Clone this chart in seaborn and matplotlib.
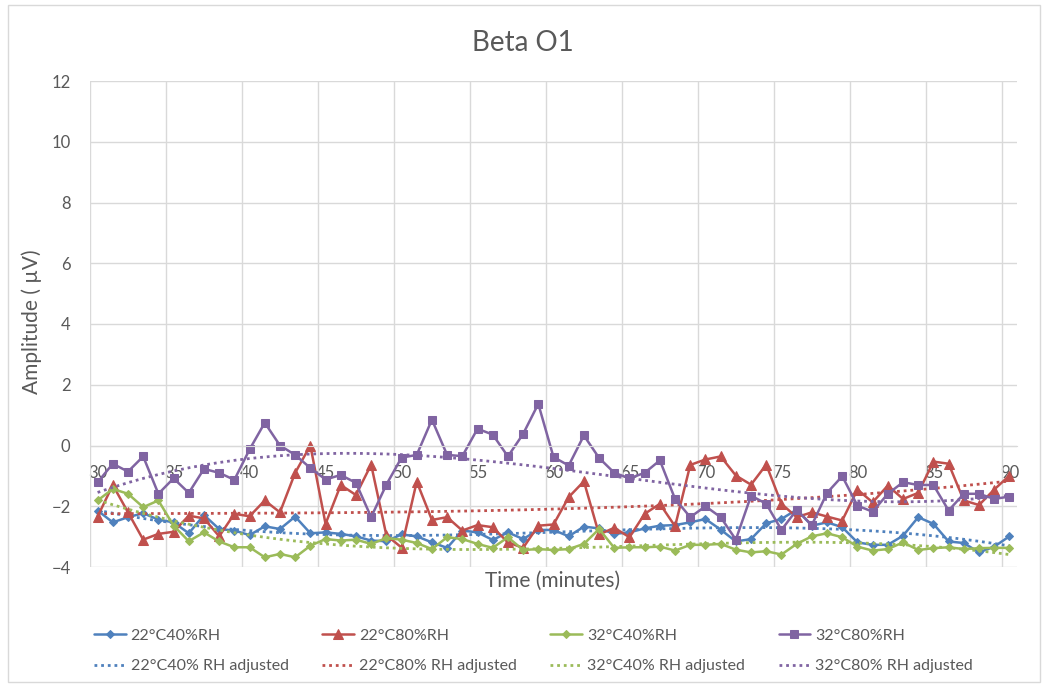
import numpy as np
import pandas as pd
import matplotlib
matplotlib.use("Agg")
import matplotlib.pyplot as plt
import seaborn as sns
from matplotlib.patches import Rectangle

# Zeit in Minuten
minutes = list(range(30, 91))

c22_40 = [-2.14, -2.53, -2.36, -2.23, -2.44, -2.53, -2.89, -2.29, -2.75, -2.80,
          -2.95, -2.66, -2.75, -2.34, -2.89, -2.86, -2.91, -2.99, -3.13, -3.15,
          -2.93, -2.99, -3.19, -3.37, -2.80, -2.86, -3.11, -2.86, -3.08, -2.78,
          -2.78, -2.99, -2.67, -2.73, -2.91, -2.86, -2.73, -2.64, -2.62, -2.53,
          -2.42, -2.77, -3.16, -3.08, -2.56, -2.42, -2.11, -2.64, -2.53, -2.69,
          -3.19, -3.27, -3.27, -2.97, -2.36, -2.58, -3.16, -3.21, -3.52, -3.33,
          -2.99]
c22_80 = [-2.34, -1.30, -2.20, -3.10, -2.91, -2.84, -2.31, -2.40, -2.99, -2.25,
          -2.33, -1.81, -2.20, -0.90, 0.00, -2.58, -1.30, -1.63, -0.63, -2.95,
          -3.36, -1.19, -2.45, -2.36, -2.80, -2.62, -2.69, -3.19, -3.37, -2.64,
          -2.60, -1.70, -1.18, -2.93, -2.71, -3.02, -2.25, -1.92, -2.66, -0.64,
          -0.46, -0.36, -0.99, -1.29, -0.63, -1.92, -2.36, -2.20, -2.34, -2.47,
          -1.45, -1.87, -1.32, -1.76, -1.56, -0.53, -0.60, -1.81, -1.96, -1.45,
          -0.99]
c32_40 = [-1.81, -1.43, -1.59, -2.03, -1.81, -2.64, -3.15, -2.86, -3.16, -3.35,
          -3.35, -3.68, -3.57, -3.68, -3.30, -3.08, -3.13, -3.10, -3.24, -3.05,
          -3.10, -3.21, -3.41, -3.02, -3.08, -3.24, -3.37, -3.02, -3.44, -3.41,
          -3.44, -3.41, -3.24, -2.75, -3.37, -3.35, -3.35, -3.33, -3.46, -3.27,
          -3.27, -3.24, -3.43, -3.52, -3.48, -3.59, -3.24, -2.99, -2.89, -3.02,
          -3.33, -3.46, -3.41, -3.19, -3.44, -3.38, -3.35, -3.41, -3.38, -3.37,
          -3.37]
c32_80 = [-1.21, -0.60, -0.86, -0.36, -1.59, -1.08, -1.56, -0.77, -0.90, -1.13,
          -0.13, 0.75, 0.00, -0.31, -0.74, -1.12, -0.97, -1.23, -2.36, -1.29,
          -0.40, -0.31, 0.85, -0.31, -0.35, 0.55, 0.36, -0.36, 0.38, 1.37,
          -0.38, -0.66, 0.33, -0.41, -0.90, -1.08, -0.90, -0.49, -1.76, -2.36,
          -2.00, -2.36, -3.10, -1.65, -1.92, -2.78, -2.12, -2.62, -1.56, -1.01,
          -1.98, -2.18, -1.59, -1.21, -1.30, -1.30, -2.14, -1.59, -1.59, -1.76,
          -1.68]

labels = ["22°C40%RH", "22°C80%RH", "32°C40%RH", "32°C80%RH"]
trend_labels = ["22°C40% RH adjusted", "22°C80% RH adjusted",
                "32°C40% RH adjusted", "32°C80% RH adjusted"]
colors = ["#4F81BD", "#C0504D", "#9BBB59", "#8064A2"]
markers = ["D", "^", "D", "s"]
msizes = [4.5, 6.5, 4.5, 5.5]

series = [c22_40, c22_80, c32_40, c32_80]

sns.set_style("white")
plt.rcParams["font.family"] = ["Lato", "DejaVu Sans"]
grey = "#595959"

fig = plt.figure(figsize=(10.46, 6.86), dpi=100)
ax = fig.add_axes([90 / 1046, 1 - 567 / 686, (1017 - 90) / 1046, (567 - 81) / 686])

for vals, lab, tlab, col, mk, ms in zip(series, labels, trend_labels, colors, markers, msizes):
    df = pd.DataFrame({"t": minutes, "v": vals})
    sns.lineplot(data=df, x="t", y="v", color=col, marker=mk, markersize=ms,
                 markeredgecolor=col, linewidth=1.8, ax=ax, label=lab)
    # Trendlinie (Polynom 3. Ordnung wie in Excel)
    coef = np.polyfit(df["t"] - 60, df["v"], 3)
    ax.plot(df["t"], np.polyval(coef, df["t"] - 60), color=col, linestyle=(0, (1, 1.4)),
            linewidth=2.0, label=tlab)

h, l = ax.get_legend_handles_labels()
ax.get_legend().remove()
order = []
for i in range(4):
    order += [2 * i, 2 * i + 1]
fig.legend([h[i] for i in order], [l[i] for i in order], ncol=4, frameon=False,
           loc="center", bbox_to_anchor=(0.51, 0.051), fontsize=11.5,
           handlelength=2.0, columnspacing=2.1, labelcolor=grey, handletextpad=0.3,
           labelspacing=1.0)

ax.set_xlim(29.5, 90.5)
ax.set_ylim(-4, 12)
ax.set_yticks(range(-4, 13, 2))
ax.set_xticks(range(30, 91, 5))
ax.set_xticks(np.arange(29.5, 90, 5), minor=True)
ax.grid(True, which="minor", axis="x", color="#D9D9D9", linewidth=1)
ax.grid(True, which="major", axis="y", color="#D9D9D9", linewidth=1)
ax.grid(False, which="major", axis="x")
for s in ["top", "right", "left"]:
    ax.spines[s].set_visible(False)
ax.spines["bottom"].set_position(("data", 0))
ax.spines["bottom"].set_color("#D9D9D9")
ax.tick_params(axis="x", which="both", length=0, pad=14, labelsize=12, labelcolor=grey)
ax.tick_params(axis="y", length=0, pad=14, labelsize=12, labelcolor=grey)

ax.set_xlabel("")
ax.set_ylabel("")
fig.text(553 / 1046, 1 - 581 / 686, "Time (minutes)", ha="center", va="center",
         fontsize=15, color=grey)
fig.text(32 / 1046, 1 - 322 / 686, "Amplitude ( µV)", ha="center", va="center",
         rotation=90, fontsize=15, color=grey)
fig.text(523 / 1046, 1 - 43 / 686, "Beta O1", ha="center", va="center",
         fontsize=20, color=grey)

# Rahmen um das Diagramm
fig.patches.append(Rectangle((8 / 1046, 4 / 686), 1032 / 1046, 677 / 686,
                             transform=fig.transFigure, fill=False,
                             edgecolor="#D9D9D9", linewidth=1))

fig.savefig("out.png", dpi=100)
